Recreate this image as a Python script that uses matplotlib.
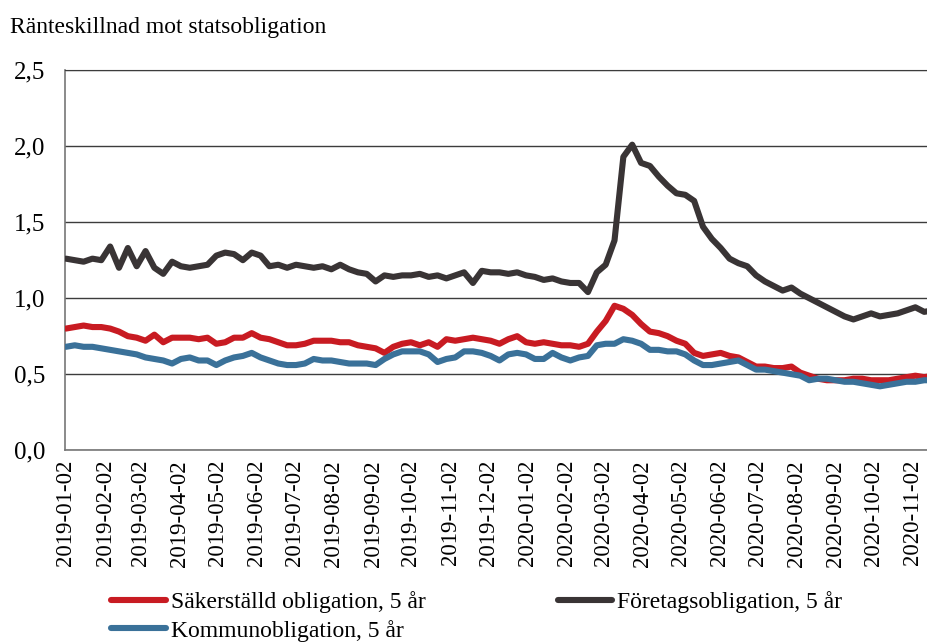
import matplotlib
matplotlib.use("Agg")
import matplotlib.pyplot as plt
import pandas as pd

# weekly observations starting 2019-01-02
dates = pd.date_range("2019-01-02", periods=99, freq="7D")

foretag = [1.26, 1.25, 1.24, 1.26, 1.25, 1.34, 1.20, 1.33, 1.21, 1.31,
           1.20, 1.16, 1.24, 1.21, 1.20, 1.21, 1.22, 1.28, 1.30, 1.29,
           1.25, 1.30, 1.28, 1.21, 1.22, 1.20, 1.22, 1.21, 1.20, 1.21,
           1.19, 1.22, 1.19, 1.17, 1.16, 1.11, 1.15, 1.14, 1.15, 1.15,
           1.16, 1.14, 1.15, 1.13, 1.15, 1.17, 1.10, 1.18, 1.17, 1.17,
           1.16, 1.17, 1.15, 1.14, 1.12, 1.13, 1.11, 1.10, 1.10, 1.04,
           1.17, 1.22, 1.38, 1.93, 2.01, 1.89, 1.87, 1.80, 1.74, 1.69,
           1.68, 1.64, 1.47, 1.39, 1.33, 1.26, 1.23, 1.21, 1.15, 1.11,
           1.08, 1.05, 1.07, 1.03, 1.00, 0.97, 0.94, 0.91, 0.88, 0.86,
           0.88, 0.90, 0.88, 0.89, 0.90, 0.92, 0.94, 0.91, 0.92]

sakerstalld = [0.80, 0.81, 0.82, 0.81, 0.81, 0.80, 0.78, 0.75, 0.74, 0.72,
               0.76, 0.71, 0.74, 0.74, 0.74, 0.73, 0.74, 0.70, 0.71, 0.74,
               0.74, 0.77, 0.74, 0.73, 0.71, 0.69, 0.69, 0.70, 0.72, 0.72,
               0.72, 0.71, 0.71, 0.69, 0.68, 0.67, 0.64, 0.68, 0.70, 0.71,
               0.69, 0.71, 0.68, 0.73, 0.72, 0.73, 0.74, 0.73, 0.72, 0.70,
               0.73, 0.75, 0.71, 0.70, 0.71, 0.70, 0.69, 0.69, 0.68, 0.70,
               0.78, 0.85, 0.95, 0.93, 0.89, 0.83, 0.78, 0.77, 0.75, 0.72,
               0.70, 0.64, 0.62, 0.63, 0.64, 0.62, 0.61, 0.58, 0.55, 0.55,
               0.54, 0.54, 0.55, 0.51, 0.49, 0.47, 0.46, 0.46, 0.46, 0.47,
               0.47, 0.46, 0.46, 0.46, 0.47, 0.48, 0.49, 0.48, 0.49]

kommun = [0.68, 0.69, 0.68, 0.68, 0.67, 0.66, 0.65, 0.64, 0.63, 0.61,
          0.60, 0.59, 0.57, 0.60, 0.61, 0.59, 0.59, 0.56, 0.59, 0.61,
          0.62, 0.64, 0.61, 0.59, 0.57, 0.56, 0.56, 0.57, 0.60, 0.59,
          0.59, 0.58, 0.57, 0.57, 0.57, 0.56, 0.60, 0.63, 0.65, 0.65,
          0.65, 0.63, 0.58, 0.60, 0.61, 0.65, 0.65, 0.64, 0.62, 0.59,
          0.63, 0.64, 0.63, 0.60, 0.60, 0.64, 0.61, 0.59, 0.61, 0.62,
          0.69, 0.70, 0.70, 0.73, 0.72, 0.70, 0.66, 0.66, 0.65, 0.65,
          0.63, 0.59, 0.56, 0.56, 0.57, 0.58, 0.59, 0.56, 0.53, 0.53,
          0.52, 0.51, 0.50, 0.49, 0.46, 0.47, 0.47, 0.46, 0.45, 0.45,
          0.44, 0.43, 0.42, 0.43, 0.44, 0.45, 0.45, 0.46, 0.46]

labels = ["Säkerställd obligation, 5 år", "Kommunobligation, 5 år",
          "Företagsobligation, 5 år"]
title = "Ränteskillnad mot statsobligation"
yticks = [0.0, 0.5, 1.0, 1.5, 2.0, 2.5]
ytick_labels = ["0,0", "0,5", "1,0", "1,5", "2,0", "2,5"]

plt.rcParams['font.family'] = ['Liberation Serif', 'DejaVu Serif']

c_red = "#c81b22"
c_blue = "#3a7199"
c_dark = "#393435"

fig = plt.figure(figsize=(9.28, 6.44), dpi=100)
ax = fig.add_axes([0.070, 0.301, 0.930, 0.590])

lw = 4.4
l_dark, = ax.plot(dates, foretag, color=c_dark, lw=lw, solid_capstyle="round",
                  solid_joinstyle="round", zorder=3)
l_red, = ax.plot(dates, sakerstalld, color=c_red, lw=lw, solid_capstyle="round",
                 solid_joinstyle="round", zorder=3)
l_blue, = ax.plot(dates, kommun, color=c_blue, lw=lw, solid_capstyle="round",
                  solid_joinstyle="round", zorder=4)

ax.set_ylim(0, 2.5)
ax.set_yticks(yticks)
ax.set_yticklabels(ytick_labels, fontsize=18)
ax.set_xlim(pd.Timestamp("2019-01-01 06:00"), pd.Timestamp("2020-11-14"))

months = pd.date_range("2019-01-01", "2020-11-01", freq="MS") + pd.Timedelta(days=1)
ax.set_xticks(months)
ax.set_xticklabels([d.strftime("%Y-%m-%d") for d in months], rotation=90, fontsize=16.5)
ax.tick_params(axis="both", length=0)
ax.tick_params(axis="x", pad=7)
ax.tick_params(axis="y", pad=14)

ax.grid(axis="y", color="#3c3c3c", lw=1.0, zorder=1)
ax.set_axisbelow(True)
ax.spines["right"].set_visible(False)
ax.spines["top"].set_color("#3c3c3c")
ax.spines["left"].set_color("#777777")
ax.spines["bottom"].set_color("#777777")
ax.spines["left"].set_linewidth(1.2)
ax.spines["bottom"].set_linewidth(1.2)

fig.text(0.011, 0.957, title, fontsize=17, ha="left", va="center")

fig.legend([l_red, l_blue, l_dark], labels, ncol=2, loc="upper left",
           bbox_to_anchor=(0.120, 0.082), frameon=False, fontsize=17,
           handlelength=2.3, handletextpad=0.22, columnspacing=5.6,
           labelspacing=0.28, borderaxespad=0, borderpad=0)

fig.savefig("out.png", dpi=100)
